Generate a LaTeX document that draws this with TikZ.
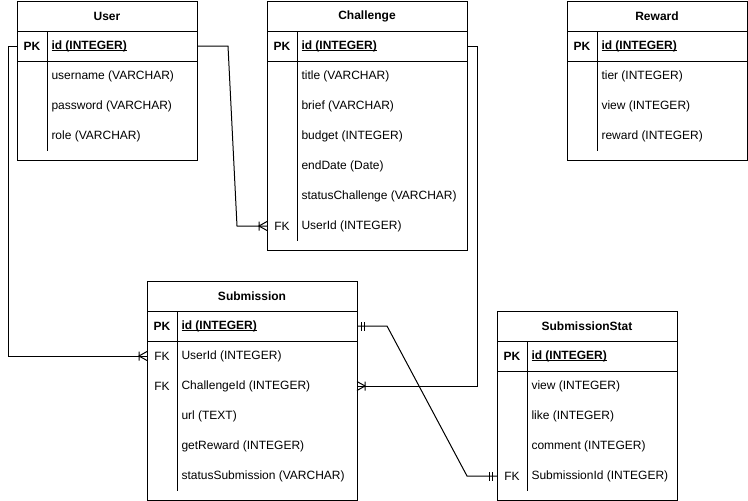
\documentclass[tikz,border=0pt,12pt]{standalone}
\usepackage{fontspec}
\setmainfont{Liberation Sans}
\usetikzlibrary{decorations.markings}

\newcommand{\pkname}[1]{\underline{\smash{#1}}\vphantom{#1}}

\tikzset{
  tbl/.style={draw, anchor=north west, inner sep=0pt, outer sep=0pt},
  row/.style={inner sep=0pt, outer sep=0pt, minimum height=30pt},
  ttl/.style={font=\bfseries},
  key/.style={inner sep=0pt},
  fld/.style={anchor=west, inner sep=0pt},
  one start/.style={postaction={decorate,decoration={markings,
    mark=at position 0 with {\draw (4.5pt,-4.5pt) -- (4.5pt,4.5pt) (7.5pt,-4.5pt) -- (7.5pt,4.5pt);}}}},
  one end/.style={postaction={decorate,decoration={markings,
    mark=at position 1 with {\draw (-4.5pt,-4.5pt) -- (-4.5pt,4.5pt) (-7.5pt,-4.5pt) -- (-7.5pt,4.5pt);}}}},
  many end/.style={postaction={decorate,decoration={markings,
    mark=at position 1 with {\draw (-8pt,-4.5pt) -- (-8pt,4.5pt) (0pt,-4.5pt) -- (-8pt,0pt) -- (0pt,4.5pt);}}}},
}

\begin{document}
\begin{tikzpicture}[x=1pt, y=-1pt, line width=1pt]
  \useasboundingbox (0,0) rectangle (748,501);

  % User
  \node[tbl, minimum width=180pt, minimum height=159pt] (user) at (17,1) {};
  \draw (17,31) -- (197,31) (17,61) -- (197,61) (47,31) -- (47,151);
  \node[ttl] at (107,16) {User};
  \node[row, minimum width=180pt] (user-0) at (107,46) {};
  \node[key, font=\bfseries] at ([xshift=15pt]user-0.west) {PK};
  \node[fld, font=\bfseries] at ([xshift=34pt]user-0.west) {\pkname{id (INTEGER)}};
  \foreach \k/\f [count=\i] in {/username (VARCHAR), /password (VARCHAR), /role (VARCHAR)} {
    \node[row, minimum width=180pt] (user-\i) at (107,46+30*\i) {};
    \node[key] at ([xshift=15pt]user-\i.west) {\k};
    \node[fld] at ([xshift=34pt]user-\i.west) {\f};
  }

  % Challenge
  \node[tbl, minimum width=200pt, minimum height=249pt] (chal) at (267,1) {};
  \draw (267,31) -- (467,31) (267,61) -- (467,61) (297,31) -- (297,241);
  \node[ttl] at (367,16) {Challenge};
  \node[row, minimum width=200pt] (chal-0) at (367,46) {};
  \node[key, font=\bfseries] at ([xshift=15pt]chal-0.west) {PK};
  \node[fld, font=\bfseries] at ([xshift=34pt]chal-0.west) {\pkname{id (INTEGER)}};
  \foreach \k/\f [count=\i] in {/title (VARCHAR), /brief (VARCHAR), /budget (INTEGER),
      /endDate (Date), /statusChallenge (VARCHAR), FK/UserId (INTEGER)} {
    \node[row, minimum width=200pt] (chal-\i) at (367,46+30*\i) {};
    \node[key] at ([xshift=15pt]chal-\i.west) {\k};
    \node[fld] at ([xshift=34pt]chal-\i.west) {\f};
  }

  % Reward
  \node[tbl, minimum width=180pt, minimum height=159pt] (rew) at (567,1) {};
  \draw (567,31) -- (747,31) (567,61) -- (747,61) (597,31) -- (597,151);
  \node[ttl] at (657,16) {Reward};
  \node[row, minimum width=180pt] (rew-0) at (657,46) {};
  \node[key, font=\bfseries] at ([xshift=15pt]rew-0.west) {PK};
  \node[fld, font=\bfseries] at ([xshift=34pt]rew-0.west) {\pkname{id (INTEGER)}};
  \foreach \k/\f [count=\i] in {/tier (INTEGER), /view (INTEGER), /reward (INTEGER)} {
    \node[row, minimum width=180pt] (rew-\i) at (657,46+30*\i) {};
    \node[key] at ([xshift=15pt]rew-\i.west) {\k};
    \node[fld] at ([xshift=34pt]rew-\i.west) {\f};
  }

  % Submission
  \node[tbl, minimum width=210pt, minimum height=219pt] (sub) at (147,281) {};
  \draw (147,311) -- (357,311) (147,341) -- (357,341) (177,311) -- (177,491);
  \node[ttl] at (252,296) {Submission};
  \node[row, minimum width=210pt] (sub-0) at (252,326) {};
  \node[key, font=\bfseries] at ([xshift=15pt]sub-0.west) {PK};
  \node[fld, font=\bfseries] at ([xshift=34pt]sub-0.west) {\pkname{id (INTEGER)}};
  \foreach \k/\f [count=\i] in {FK/UserId (INTEGER), FK/ChallengeId (INTEGER), /url (TEXT),
      /getReward (INTEGER), /statusSubmission (VARCHAR)} {
    \node[row, minimum width=210pt] (sub-\i) at (252,326+30*\i) {};
    \node[key] at ([xshift=15pt]sub-\i.west) {\k};
    \node[fld] at ([xshift=34pt]sub-\i.west) {\f};
  }

  % SubmissionStat
  \node[tbl, minimum width=180pt, minimum height=189pt] (stat) at (497,311) {};
  \draw (497,341) -- (677,341) (497,371) -- (677,371) (527,341) -- (527,491);
  \node[ttl] at (587,326) {SubmissionStat};
  \node[row, minimum width=180pt] (stat-0) at (587,356) {};
  \node[key, font=\bfseries] at ([xshift=15pt]stat-0.west) {PK};
  \node[fld, font=\bfseries] at ([xshift=34pt]stat-0.west) {\pkname{id (INTEGER)}};
  \foreach \k/\f [count=\i] in {/view (INTEGER), /like (INTEGER), /comment (INTEGER),
      FK/SubmissionId (INTEGER)} {
    \node[row, minimum width=180pt] (stat-\i) at (587,356+30*\i) {};
    \node[key] at ([xshift=15pt]stat-\i.west) {\k};
    \node[fld] at ([xshift=34pt]stat-\i.west) {\f};
  }

  % relations
  \coordinate (k1) at (228,46);
  \coordinate (k2) at (237,226);
  \coordinate (k3) at (387,326);
  \coordinate (k4) at (467,476);
  \draw[many end] (user-0.east) -- (k1) -- (k2) -- (chal-6.west);
  \draw[many end] (user-0.west) -- ++(-9,0) |- (sub-1.west);
  \draw[many end] (chal-0.east) -- ++(10,0) |- (sub-2.east);
  \draw[one start, one end] (sub-0.east) -- (k3) -- (k4) -- (stat-4.west);
\end{tikzpicture}
\end{document}
